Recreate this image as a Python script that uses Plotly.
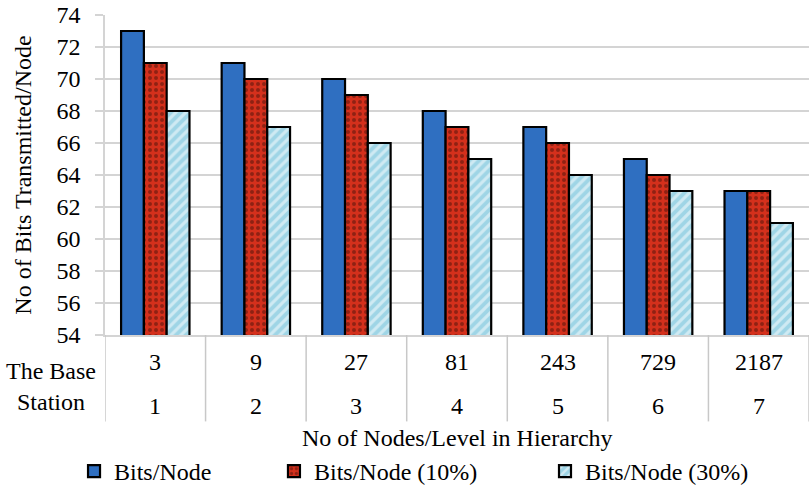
import plotly.graph_objects as go

# Data
nodes_per_level = ["3", "9", "27", "81", "243", "729", "2187"]
levels = ["1", "2", "3", "4", "5", "6", "7"]
bits_node = [73, 71, 70, 68, 67, 65, 63]
bits_node_10 = [71, 70, 69, 67, 66, 64, 63]
bits_node_30 = [68, 67, 66, 65, 64, 63, 61]

FONT = "Liberation Serif"
FS = 24
GRID = "#d4d4d4"

x = list(range(len(levels)))

fig = go.Figure()
fig.add_trace(go.Bar(
    x=x, y=bits_node, name="Bits/Node", legend="legend",
    marker=dict(color="#2f6fc1", line=dict(color="black", width=2.2)),
))
fig.add_trace(go.Bar(
    x=x, y=bits_node_10, name="Bits/Node (10%)", legend="legend2",
    marker=dict(color="#d4301c", line=dict(color="black", width=2.2),
                pattern=dict(shape=".", bgcolor="#d4301c", fgcolor="#4a120a",
                             size=6, solidity=0.35)),
))
fig.add_trace(go.Bar(
    x=x, y=bits_node_30, name="Bits/Node (30%)", legend="legend3",
    marker=dict(color="#a3d8e8", line=dict(color="black", width=2.2),
                pattern=dict(shape="/", bgcolor="#9fd5e6", fgcolor="white",
                             size=7, solidity=0.45)),
))

txt_font = dict(family=FONT, size=FS, color="black")

# Two-row category table under the plot
annotations = []
shapes = []
for i in x:
    annotations.append(dict(x=i, y=-0.084, xref="x", yref="paper", text=nodes_per_level[i],
                            xanchor="center", yanchor="middle", showarrow=False, font=txt_font))
    annotations.append(dict(x=i, y=-0.222, xref="x", yref="paper", text=levels[i],
                            xanchor="center", yanchor="middle", showarrow=False, font=txt_font))
for b in [i - 0.5 for i in x] + [len(x) - 0.5]:
    shapes.append(dict(type="line", xref="x", yref="paper", x0=b, x1=b, y0=0, y1=-0.27,
                       line=dict(color="#c8c8c8", width=1.5)))

annotations.append(dict(x=-0.077, y=-0.16, xref="paper", yref="paper", text="The Base<br>Station",
                        xanchor="center", yanchor="middle", showarrow=False, align="center",
                        font=txt_font))
annotations.append(dict(x=0.5, y=-0.322, xref="paper", yref="paper",
                        text="No of Nodes/Level in Hierarchy", xanchor="center", yanchor="middle",
                        showarrow=False, font=txt_font))

legend_style = dict(orientation="h", yanchor="middle", y=-0.428, xanchor="left",
                    font=txt_font, bgcolor="rgba(0,0,0,0)", borderwidth=0, itemwidth=30)

fig.update_layout(
    width=809, height=494,
    margin=dict(l=105, r=0, t=15, b=159),
    paper_bgcolor="white", plot_bgcolor="white",
    barmode="group", bargap=0.32, bargroupgap=0,
    font=txt_font,
    showlegend=True,
    legend=dict(legend_style, x=-0.044),
    legend2=dict(legend_style, x=0.24),
    legend3=dict(legend_style, x=0.625),
    annotations=annotations,
    shapes=shapes,
)
fig.update_xaxes(range=[-0.5, len(x) - 0.5], showticklabels=False, ticks="",
                 showgrid=False, zeroline=False, showline=True, linecolor=GRID, linewidth=1.5)
fig.update_yaxes(range=[54, 74], dtick=2, showgrid=True, gridcolor=GRID, gridwidth=1.5,
                 ticks="outside", ticklen=8, tickcolor=GRID, tickwidth=1.5,
                 ticklabelstandoff=10,
                 showline=True, linecolor=GRID, linewidth=1.5, zeroline=False,
                 tickfont=txt_font,
                 title=dict(text="No of Bits Transmitted/Node", standoff=18, font=txt_font))

fig.write_html("out.html")
